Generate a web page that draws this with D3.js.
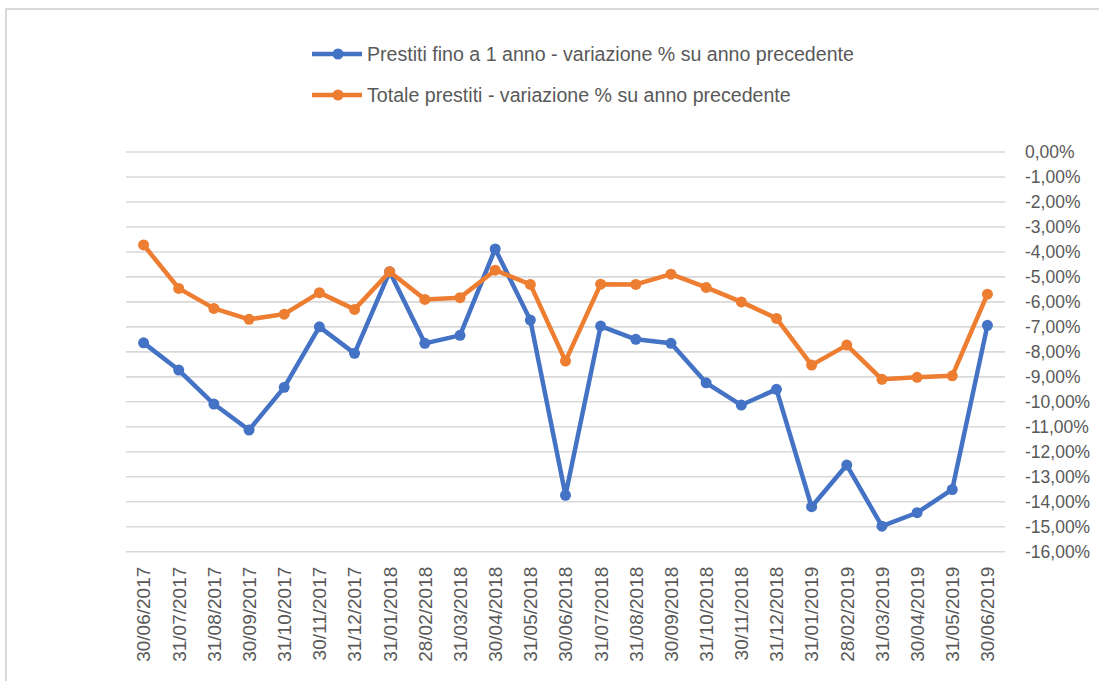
<!DOCTYPE html>
<html>
<head>
<meta charset="utf-8">
<script src="https://cdn.jsdelivr.net/npm/d3@7"></script>
<style>
  html, body { margin: 0; padding: 0; background: #fff; }
  svg { display: block; }
  text { font-family: "Liberation Sans", Arial, sans-serif; fill: #595959; }
</style>
</head>
<body>
<svg id="chart" width="1099" height="681"></svg>
<script>
const categories = ["30/06/2017","31/07/2017","31/08/2017","30/09/2017","31/10/2017","30/11/2017","31/12/2017",
  "31/01/2018","28/02/2018","31/03/2018","30/04/2018","31/05/2018","30/06/2018","31/07/2018","31/08/2018",
  "30/09/2018","31/10/2018","30/11/2018","31/12/2018","31/01/2019","28/02/2019","31/03/2019","30/04/2019",
  "31/05/2019","30/06/2019"];
const prestitiFinoA1Anno = [-7.64,-8.73,-10.09,-11.13,-9.42,-7.00,-8.06,-4.79,-7.66,-7.34,-3.88,-6.73,-13.74,
  -6.97,-7.50,-7.66,-9.24,-10.13,-9.50,-14.20,-12.53,-14.98,-14.44,-13.51,-6.94];
const totalePrestiti = [-3.72,-5.46,-6.26,-6.70,-6.49,-5.63,-6.30,-4.79,-5.90,-5.83,-4.73,-5.30,-8.37,
  -5.29,-5.30,-4.89,-5.42,-6.00,-6.66,-8.53,-7.73,-9.10,-9.02,-8.96,-5.69];
const yTicks = [0,-1,-2,-3,-4,-5,-6,-7,-8,-9,-10,-11,-12,-13,-14,-15,-16];
const seriesNames = ["Prestiti fino a 1 anno - variazione % su anno precedente",
                     "Totale prestiti - variazione % su anno precedente"];
const seriesColors = ["#4472c4", "#ed7d31"];

const svg = d3.select("#chart");

// chart frame border
svg.append("path")
  .attr("d", "M6,690 L6,9 L1110,9")
  .attr("fill", "none").attr("stroke", "#d9d9d9").attr("stroke-width", 2);

const x = d3.scaleBand().domain(categories).range([126, 1005]).padding(0);
const y = d3.scaleLinear().domain([-16, 0]).range([551.7, 152]);

const itLocale = d3.formatLocale({decimal: ",", thousands: ".", grouping: [3], currency: ["€", ""], minus: "-"});
const pct = itLocale.format(".2%");

// gridlines
svg.append("g").selectAll("line").data(yTicks).join("line")
  .attr("x1", 126).attr("x2", 1005)
  .attr("y1", d => y(d)).attr("y2", d => y(d))
  .attr("stroke", "#d9d9d9").attr("stroke-width", 1.6);

// right axis
const yAxis = svg.append("g").attr("transform", "translate(1005,0)")
  .call(d3.axisRight(y).tickValues(yTicks).tickSize(0).tickPadding(20).tickFormat(d => pct(d / 100)));
yAxis.select(".domain").remove();
yAxis.selectAll("text").attr("font-size", 17.5).attr("fill", "#595959")
  .attr("font-family", "Liberation Sans, Arial, sans-serif");

// bottom axis
const xAxis = svg.append("g").attr("transform", "translate(0,551.7)")
  .call(d3.axisBottom(x).tickSize(0));
xAxis.select(".domain").remove();
xAxis.selectAll("text")
  .attr("transform", "rotate(-90)")
  .attr("text-anchor", "end")
  .attr("x", -15).attr("y", 0).attr("dy", "0.36em")
  .attr("font-size", 19).attr("fill", "#595959")
  .attr("font-family", "Liberation Sans, Arial, sans-serif");

// lines
const series = [prestitiFinoA1Anno, totalePrestiti];
const line = d3.line().x((d, i) => x(categories[i]) + x.bandwidth() / 2).y(d => y(d));
series.forEach((vals, si) => {
  const g = svg.append("g");
  g.append("path").datum(vals).attr("d", line)
    .attr("fill", "none").attr("stroke", seriesColors[si]).attr("stroke-width", 4.5)
    .attr("stroke-linejoin", "round");
  g.selectAll("circle").data(vals).join("circle")
    .attr("cx", (d, i) => x(categories[i]) + x.bandwidth() / 2)
    .attr("cy", d => y(d)).attr("r", 5.5)
    .attr("fill", seriesColors[si]);
});

// legend
const legendY = [54, 95];
seriesNames.forEach((name, i) => {
  const g = svg.append("g").attr("transform", `translate(0,${legendY[i]})`);
  g.append("line").attr("x1", 312).attr("x2", 362).attr("y1", 0).attr("y2", 0)
    .attr("stroke", seriesColors[i]).attr("stroke-width", 4.5);
  g.append("circle").attr("cx", 338).attr("cy", 0).attr("r", 5.5).attr("fill", seriesColors[i]);
  g.append("text").attr("x", 367).attr("y", 0).attr("dy", "0.35em")
    .attr("font-size", 19.6).text(name);
});
</script>
</body>
</html>
